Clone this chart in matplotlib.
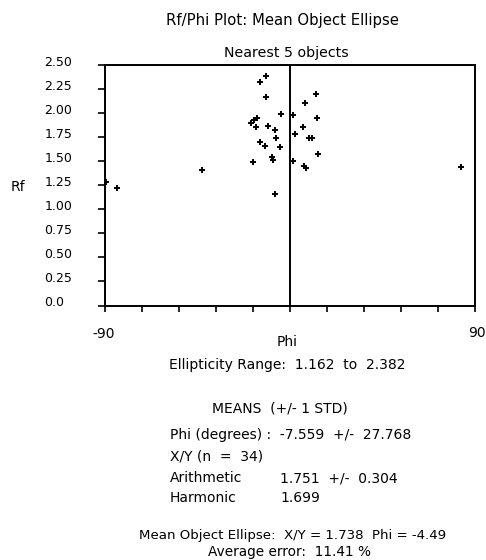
import matplotlib
matplotlib.use("Agg")
import matplotlib.pyplot as plt
from matplotlib.transforms import ScaledTranslation
import numpy as np

# Object orientations (degrees) and axial ratios for the 34 measured objects
phi = [-89.5, -84.0, -42.6, -17.8, -19.0, -17.5, -15.9, -16.7, -14.6, -11.7,
       -11.7, -14.6, -12.0, -10.9, -7.5, -7.0, -4.9, -4.2, -8.9, -8.1,
       -7.5, 1.6, 2.3, 1.6, 6.5, 7.1, 12.5, 13.0, 9.4, 10.7,
       13.8, 6.8, 7.9, 83.0]
rf = [1.288, 1.219, 1.409, 1.496, 1.901, 1.929, 1.953, 1.852, 2.327, 2.382,
      2.171, 1.704, 1.659, 1.870, 1.825, 1.738, 1.645, 1.991, 1.548, 1.513,
      1.162, 1.981, 1.783, 1.506, 1.852, 2.102, 2.199, 1.953, 1.745, 1.745,
      1.575, 1.454, 1.434, 1.444]

rf_ticks = [0.0, 0.25, 0.5, 0.75, 1.0, 1.25, 1.5, 1.75, 2.0, 2.25, 2.5]
rf_tick_labels = ["0.0", "0.25", "0.50", "0.75", "1.00", "1.25", "1.50",
                  "1.75", "2.00", "2.25", "2.50"]
phi_ticks = [-90, -72, -54, -36, -18, 0, 18, 36, 54, 72, 90]

summary_lines = {
    "range": "Ellipticity Range:  1.162  to  2.382",
    "means": "MEANS  (+/- 1 STD)",
    "phi": "Phi (degrees) :  -7.559  +/-  27.768",
    "xy": "X/Y (n  =  34)",
    "arith": ("Arithmetic", "1.751  +/-  0.304"),
    "harm": ("Harmonic", "1.699"),
    "ellipse": "Mean Object Ellipse:  X/Y = 1.738  Phi = -4.49",
    "error": "Average error:  11.41 %",
}

W, H = 486, 560
DPI = 100
plt.rcParams["font.family"] = ["DejaVu Sans"]
fig = plt.figure(figsize=(W / DPI, H / DPI), dpi=DPI)
fig.patch.set_facecolor("white")


def fx(px):
    return px / W


def fy(py):
    return 1 - py / H


left, right, top, bottom = 105, 475, 65, 305.5
ax = fig.add_axes([fx(left), fy(bottom), fx(right - left), (bottom - top) / H])
ax.set_xlim(-90, 90)
ax.set_ylim(0, 2.5)

for s in ax.spines.values():
    s.set_linewidth(1.4)
    s.set_color("black")
ax.axvline(0, color="black", lw=1.4)

ax.plot(phi, rf, linestyle="none", marker="+", markersize=4.8,
        markeredgewidth=1.4, color="black")

ax.set_yticks(rf_ticks)
ax.set_yticklabels(rf_tick_labels, ha="left", fontsize=9)
ax.tick_params(axis="y", direction="out", length=5, width=1.2, pad=38.5)
ax.set_xticks(phi_ticks)
ax.set_xticklabels([])
ax.tick_params(axis="x", direction="out", length=4.5, width=1.2)
shift = ScaledTranslation(0, 4.5 / DPI, fig.dpi_scale_trans)
for lab in ax.get_yticklabels():
    lab.set_transform(lab.get_transform() + shift)

txt = dict(color="black", fontsize=10)
fig.text(fx(282), fy(21), "Rf/Phi Plot: Mean Object Ellipse", ha="center",
         va="center", color="black", fontsize=10.7)
fig.text(fx(286), fy(53), "Nearest 5 objects", ha="center", va="center",
         color="black", fontsize=10.2)
fig.text(fx(18), fy(187), "Rf", ha="center", va="center", **txt)
fig.text(fx(104), fy(334), "-90", ha="center", va="center", **txt)
fig.text(fx(477), fy(333), "90", ha="center", va="center", **txt)
fig.text(fx(287), fy(342), "Phi", ha="center", va="center", **txt)

fig.text(fx(287), fy(365), summary_lines["range"], ha="center", va="center", **txt)
fig.text(fx(280), fy(408), summary_lines["means"], ha="center", va="center", **txt)
fig.text(fx(170), fy(435), summary_lines["phi"], ha="left", va="center", **txt)
fig.text(fx(170), fy(457), summary_lines["xy"], ha="left", va="center", **txt)
fig.text(fx(170), fy(478), summary_lines["arith"][0], ha="left", va="center", **txt)
fig.text(fx(280), fy(478), summary_lines["arith"][1], ha="left", va="center", **txt)
fig.text(fx(170), fy(498), summary_lines["harm"][0], ha="left", va="center", **txt)
fig.text(fx(280), fy(498), summary_lines["harm"][1], ha="left", va="center", **txt)
fig.text(fx(293), fy(536), summary_lines["ellipse"], ha="center", va="center",
         color="black", fontsize=9.6)
fig.text(fx(289), fy(552), summary_lines["error"], ha="center", va="center",
         color="black", fontsize=9.8)

fig.savefig("out.png", dpi=DPI, facecolor="white")
